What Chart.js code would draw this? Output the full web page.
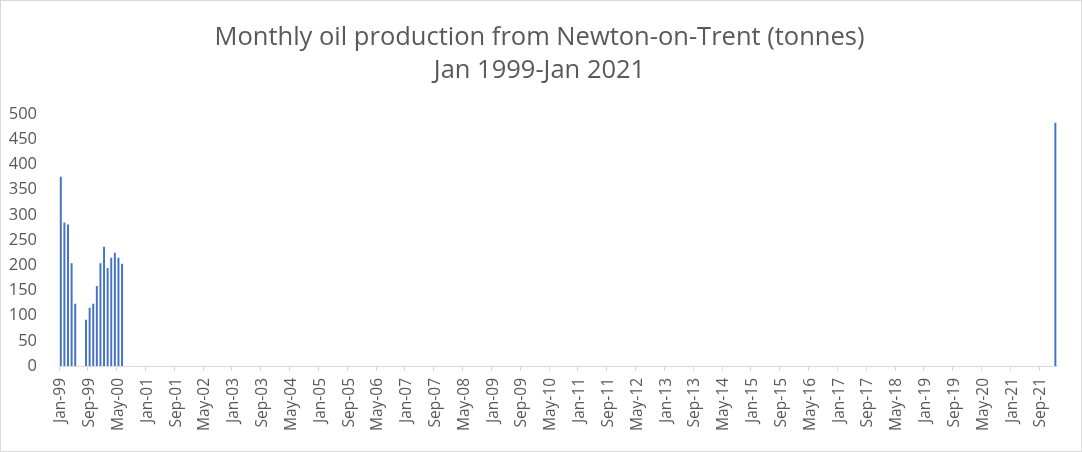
<!DOCTYPE html>
<html>
<head>
<meta charset="utf-8">
<script src="https://cdn.jsdelivr.net/npm/chart.js@4/dist/chart.umd.min.js"></script>
<style>
    body { margin: 0; background: #fff; }
    #wrap { width: 1082px; height: 452px; box-sizing: border-box; border: 1px solid #d9d9d9; }
    canvas { display: block; }
</style>
</head>
<body>
<div id="wrap"><canvas id="oilChart" width="1080" height="450"></canvas></div>
<script>
const monthNames = ["Jan", "Feb", "Mar", "Apr", "May", "Jun", "Jul", "Aug", "Sep", "Oct", "Nov", "Dec"];
const firstYear = 1999;
const lastYear = 2022;   // axis runs Jan-99 .. Jan-22

// tonnes, Jan-99 .. Jun-00 (null = no production reported)
const output1999to2000 = [375, 284, 280, 203, 123, null, null, 91, 115, 123, 158, 203, 236, 194, 214, 224, 214, 202];
const outputJan22 = 482;

const yTicks = [0, 50, 100, 150, 200, 250, 300, 350, 400, 450, 500];
const titleLines = ["Monthly oil production from Newton-on-Trent (tonnes)", "Jan 1999-Jan 2021"];

const months = [];
for (let y = firstYear; y <= lastYear; y++) {
    for (let m = 0; m < 12; m++) {
        if (y === lastYear && m > 0) break;
        months.push(monthNames[m] + "-" + String(y).slice(2));
    }
}

const production = months.map(() => null);
output1999to2000.forEach((v, i) => production[i] = v);
production[months.indexOf("Jan-22")] = outputJan22;

const grey = "#595959";

// title centred on the whole canvas, not on the padded layout box
const centredTitle = {
    id: "centredTitle",
    afterDraw(chart) {
        const ctx = chart.ctx;
        ctx.save();
        ctx.fillStyle = grey;
        ctx.font = "25.5px 'Open Sans'";
        ctx.textAlign = "center";
        ctx.textBaseline = "middle";
        titleLines.forEach((t, i) => ctx.fillText(t, chart.width / 2 - 1.5, 37 + i * 33));
        ctx.restore();
    }
};

new Chart(document.getElementById("oilChart"), {
    type: "bar",
    data: {
        labels: months,
        datasets: [{
            label: "Oil production (tonnes)",
            data: production,
            backgroundColor: "#4472c4",
            barThickness: 1.3
        }]
    },
    options: {
        responsive: false,
        animation: false,
        layout: { padding: { left: 0, right: 23, top: 113, bottom: 0 } },
        plugins: {
            legend: { display: false },
            tooltip: { enabled: false },
            title: { display: false }
        },
        scales: {
            x: {
                grid: {
                    drawOnChartArea: false,
                    drawTicks: true,
                    tickLength: 5,
                    color: ctx => ctx.index % 8 === 0 ? "#d9d9d9" : "rgba(0,0,0,0)"
                },
                border: { color: "#d9d9d9" },
                ticks: {
                    autoSkip: false,
                    maxRotation: 90,
                    minRotation: 90,
                    padding: 7,
                    color: grey,
                    font: { family: "Open Sans", size: 15.5 },
                    callback: (v, i) => i % 8 === 0 ? months[i] : ""
                },
                afterFit: s => { s.height = 85; }
            },
            y: {
                min: 0,
                max: 500,
                grid: { display: false },
                border: { display: false },
                afterBuildTicks: s => { s.ticks = yTicks.map(v => ({ value: v })); },
                ticks: {
                    color: grey,
                    padding: 14,
                    font: { family: "Open Sans", size: 16.5 }
                },
                afterFit: s => { s.width = 58; }
            }
        }
    },
    plugins: [centredTitle]
});
</script>
</body>
</html>
